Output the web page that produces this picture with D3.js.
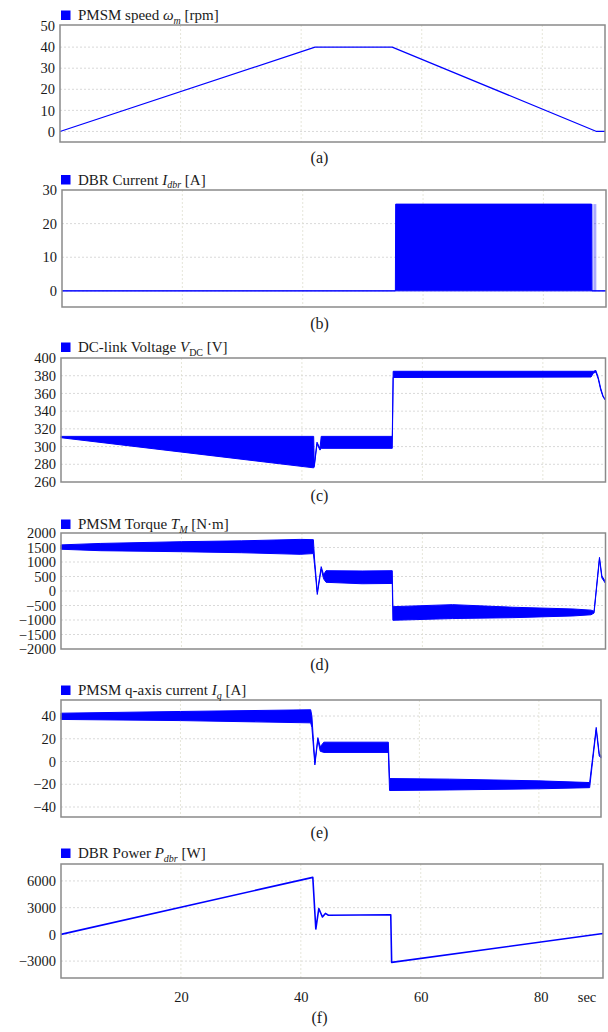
<!DOCTYPE html>
<html>
<head>
<meta charset="utf-8">
<script src="https://cdn.jsdelivr.net/npm/d3@7"></script>
<style>
  body { margin: 0; background: #fff; }
  svg { display: block; }
  text { font-family: "Liberation Serif", "Times New Roman", serif; fill: #1a1a1a; }
</style>
</head>
<body>
<script>
// ---- data ----
var timeTicks = [20, 40, 60, 80];
var timeEnd = 90.4;

// (a) speed
var speedT = [0, 42.3, 55.1, 89.0, 90.4];
var speedV = [0, 40, 40, 0, 0];
var speedTicks = [0, 10, 20, 30, 40, 50];

// (b) DBR current (switching band envelope)
var currT  = [0, 55.4, 55.45, 88.0, 88.05, 90.4];
var currLo = [0, 0, 0, 0, 0, 0];
var currHi = [0, 0, 25.8, 25.8, 0, 0];
var currPulses = [88.2, 88.45, 88.7];
var currTicks = [0, 10, 20, 30];

// (c) DC-link voltage envelope
var vdcT  = [0, 41.95, 42.05, 42.5, 43.0, 43.2, 55.0, 55.15, 88.0, 88.4, 88.8, 89.2, 89.6, 90.0, 90.4];
var vdcLo = [310, 276, 277, 303, 296, 298, 298, 378, 378.5, 383, 384, 376, 364, 356, 352];
var vdcHi = [311.5, 311.5, 279, 305, 298, 311.5, 311.5, 385, 385, 385, 386, 378, 366, 357, 353];
var vdcTicks = [260, 280, 300, 320, 340, 360, 380, 400];

// (d) torque envelope
var torqT  = [0, 6.5, 20, 30, 39.7, 41.9, 42.1, 42.55, 43.2, 43.6, 44.0, 50, 55.0, 55.1, 65, 75, 85, 88.0, 88.5, 89.4, 89.8, 90.4];
var torqLo = [1440, 1390, 1355, 1320, 1265, 1290, 900, -120, 760, 420, 300, 250, 260, -1010, -950, -920, -860, -820, -760, 1100, 450, 260];
var torqHi = [1590, 1640, 1700, 1730, 1780, 1770, 1100, -40, 840, 560, 700, 690, 700, -540, -470, -560, -620, -660, -700, 1160, 520, 320];
var torqTicks = [-2000, -1500, -1000, -500, 0, 500, 1000, 1500, 2000];

// (e) q-axis current envelope
var iqT  = [0, 20, 41.8, 42.0, 42.5, 43.0, 43.4, 44.0, 54.8, 55.0, 65, 80, 88.5, 89.6, 90.1, 90.4];
var iqLo = [37, 36, 34, 30, -3, 19, 9, 8, 8, -25.5, -25, -24, -23, 28, 5, 3];
var iqHi = [42.5, 44, 45.5, 40, -1, 21, 13, 17, 17, -15, -15.5, -17, -18.5, 30, 7, 5];
var iqTicks = [-40, -20, 0, 20, 40];

// (f) DBR power
var powT = [0, 42.0, 42.5, 43.0, 43.6, 44.1, 44.6, 55.0, 55.15, 90.4];
var powV = [0, 6400, 600, 2900, 1950, 2350, 2150, 2200, -3150, 100];
var powTicks = [-3000, 0, 3000, 6000];

// ---- drawing ----
var svg = d3.select("body").append("svg")
    .attr("width", 608)
    .attr("height", 1032);

svg.append("rect").attr("width", 608).attr("height", 1032).attr("fill", "#fff");

var blue = "#0000ff";
var fmt = d3.format("d");

function zip(t, a, b) {
    return t.map(function(d, i) { return {t: d, lo: a[i], hi: b ? b[i] : a[i]}; });
}

var panels = [
    {top: 25, bottom: 142, left: 60, right: 605, dom: [-5, 50.5], ticks: speedTicks,
     line: zip(speedT, speedV), legendY: 20, caption: "(a)", capY: 163,
     legend: [["PMSM speed ", ""], ["ω", "i"], ["m", "si"], [" [rpm]", ""]]},
    {top: 190, bottom: 307, left: 62, right: 606, dom: [-4.8, 30], ticks: currTicks,
     band: zip(currT, currLo, currHi), pulses: currPulses, legendY: 184.5, caption: "(b)", capY: 329,
     legend: [["DBR Current ", ""], ["I", "i"], ["dbr", "si"], [" [A]", ""]]},
    {top: 358, bottom: 482, left: 61, right: 605.5, dom: [260, 400], ticks: vdcTicks,
     band: zip(vdcT, vdcLo, vdcHi), legendY: 352, caption: "(c)", capY: 501,
     legend: [["DC-link Voltage ", ""], ["V", "i"], ["DC", "s"], [" [V]", ""]]},
    {top: 533, bottom: 649, left: 61, right: 605.5, dom: [-2000, 2000], ticks: torqTicks,
     band: zip(torqT, torqLo, torqHi), legendY: 529, caption: "(d)", capY: 670,
     legend: [["PMSM Torque ", ""], ["T", "i"], ["M", "si"], [" [N·m]", ""]]},
    {top: 700, bottom: 817, left: 61, right: 601, dom: [-48.8, 54.1], ticks: iqTicks,
     band: zip(iqT, iqLo, iqHi), legendY: 695, caption: "(e)", capY: 838,
     legend: [["PMSM q-axis current ", ""], ["I", "i"], ["q", "si"], [" [A]", ""]]},
    {top: 864, bottom: 978, left: 61, right: 603, dom: [-4900, 7900], ticks: powTicks,
     line: zip(powT, powV), lineW: 1.6, legendY: 858, caption: "(f)", capY: 1023, xAxis: true,
     legend: [["DBR Power ", ""], ["P", "i"], ["dbr", "si"], [" [W]", ""]]}
];

panels.forEach(function(p) {
    var x = d3.scaleLinear().domain([0, timeEnd]).range([p.left, p.right]);
    var y = d3.scaleLinear().domain(p.dom).range([p.bottom, p.top]);
    var g = svg.append("g");

    // grid
    g.selectAll(".hg").data(p.ticks.filter(function(v) {
            var yy = y(v); return yy > p.top + 1.5 && yy < p.bottom - 1.5; }))
      .enter().append("line")
        .attr("x1", p.left).attr("x2", p.right)
        .attr("y1", function(d) { return y(d); }).attr("y2", function(d) { return y(d); })
        .attr("stroke", "#cfcfcf").attr("stroke-width", 0.8).attr("stroke-dasharray", "2,2");
    g.selectAll(".vg").data(timeTicks).enter().append("line")
        .attr("x1", function(d) { return x(d); }).attr("x2", function(d) { return x(d); })
        .attr("y1", p.top).attr("y2", p.bottom)
        .attr("stroke", "#e0e0d0").attr("stroke-width", 0.8).attr("stroke-dasharray", "2,2");

    // y axis labels
    var ya = g.append("g")
        .attr("transform", "translate(" + (p.left - 5) + ",0)")
        .call(d3.axisLeft(y).tickValues(p.ticks).tickFormat(fmt).tickSize(0).tickPadding(0));
    ya.select(".domain").remove();
    ya.selectAll("text").style("font-family", "Liberation Serif").style("font-size", "14.5px").attr("fill", "#1a1a1a");

    if (p.xAxis) {
        var xa = g.append("g")
            .attr("transform", "translate(0," + p.bottom + ")")
            .call(d3.axisBottom(x).tickValues(timeTicks).tickFormat(fmt).tickSize(0).tickPadding(14));
        xa.select(".domain").remove();
        xa.selectAll("text").style("font-family", "Liberation Serif").style("font-size", "14.5px").attr("fill", "#1a1a1a");
        g.append("text").attr("x", 587).attr("y", p.bottom + 24)
            .attr("text-anchor", "middle").style("font-size", "14.5px").text("sec");
    }

    // data
    if (p.band) {
        var area = d3.area()
            .x(function(d) { return x(d.t); })
            .y0(function(d) { return y(d.lo); })
            .y1(function(d) { return y(d.hi); });
        g.append("path").datum(p.band)
            .attr("d", area)
            .attr("fill", blue).attr("stroke", blue).attr("stroke-width", 1)
            .attr("stroke-linejoin", "round");
    }
    if (p.pulses) {
        g.selectAll(".pulse").data(p.pulses).enter().append("line")
            .attr("x1", function(d) { return x(d); }).attr("x2", function(d) { return x(d); })
            .attr("y1", y(0)).attr("y2", y(25.8))
            .attr("stroke", blue).attr("stroke-opacity", 0.45).attr("stroke-width", 1);
    }
    if (p.line) {
        var line = d3.line()
            .x(function(d) { return x(d.t); })
            .y(function(d) { return y(d.lo); });
        g.append("path").datum(p.line)
            .attr("d", line)
            .attr("fill", "none").attr("stroke", blue).attr("stroke-width", p.lineW || 1.2)
            .attr("stroke-linejoin", "round");
    }

    // frame
    g.append("rect")
        .attr("x", p.left).attr("y", p.top)
        .attr("width", p.right - p.left).attr("height", p.bottom - p.top)
        .attr("fill", "none").attr("stroke", "#8a8a8a").attr("stroke-width", 1.5);

    // legend
    g.append("rect")
        .attr("x", 61).attr("y", p.legendY - 9.5)
        .attr("width", 9.5).attr("height", 9.5).attr("fill", blue);
    var lt = g.append("text").attr("x", 78).attr("y", p.legendY).style("font-size", "15px");
    var sub = false;
    p.legend.forEach(function(s) {
        var ts = lt.append("tspan").text(s[0]);
        if (s[1].indexOf("i") >= 0) ts.style("font-style", "italic");
        if (s[1].indexOf("s") >= 0) {
            ts.style("font-size", "10px").attr("dy", 3.5);
            sub = true;
        } else if (sub) {
            ts.attr("dy", -3.5);
            sub = false;
        }
    });

    // caption
    g.append("text")
        .attr("x", 319.5).attr("y", p.capY)
        .attr("text-anchor", "middle").style("font-size", "16px")
        .text(p.caption);
});
</script>
</body>
</html>
